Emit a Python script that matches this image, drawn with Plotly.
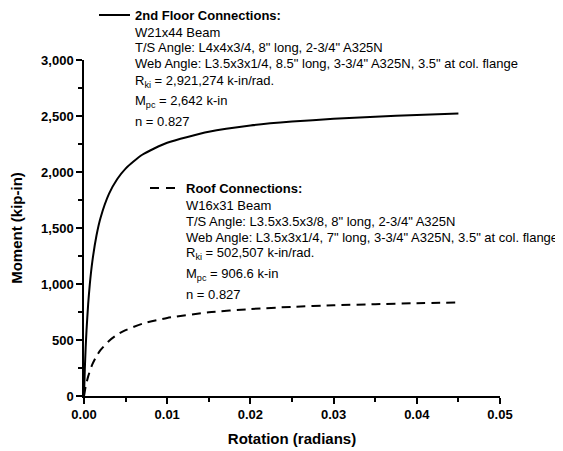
import plotly.graph_objects as go

# Data
rotation = [0, 0.0001, 0.0002, 0.0003, 0.0005, 0.0007, 0.001, 0.0015, 0.002, 0.003, 0.004,
            0.005, 0.007, 0.01, 0.015, 0.02, 0.025, 0.03, 0.035, 0.04, 0.045]
moment_2nd = [0, 244, 431, 583, 820, 999, 1200, 1433, 1594, 1804, 1937,
              2030, 2154, 2261, 2359, 2415, 2450, 2475, 2494, 2509, 2523]
rotation_roof = [0, 0.0002, 0.0005, 0.001, 0.0015, 0.002, 0.003, 0.004, 0.005, 0.007, 0.01,
                 0.015, 0.02, 0.025, 0.03, 0.035, 0.04, 0.045]
moment_roof = [0, 84, 175, 282, 356, 412, 492, 548, 588, 645, 697,
               747, 776, 796, 810, 820, 829, 835]

x_ticks = [0, 0.01, 0.02, 0.03, 0.04, 0.05]
x_tick_labels = ["0.00", "0.01", "0.02", "0.03", "0.04", "0.05"]
y_ticks = [0, 500, 1000, 1500, 2000, 2500, 3000]
y_tick_labels = ["0", "500", "1,000", "1,500", "2,000", "2,500", "3,000"]

text_2nd = ["<b>2nd Floor Connections:</b>",
            "W21x44 Beam",
            "T/S Angle: L4x4x3/4, 8\" long, 2-3/4\" A325N",
            "Web Angle: L3.5x3x1/4, 8.5\" long, 3-3/4\" A325N, 3.5\" at col. flange",
            "R<sub>ki</sub> = 2,921,274 k-in/rad.",
            "M<sub>pc</sub> = 2,642 k-in",
            "n = 0.827"]
text_roof = ["<b>Roof Connections:</b>",
             "W16x31 Beam",
             "T/S Angle: L3.5x3.5x3/8, 8\" long, 2-3/4\" A325N",
             "Web Angle: L3.5x3x1/4, 7\" long, 3-3/4\" A325N, 3.5\" at col. flange",
             "R<sub>ki</sub> = 502,507 k-in/rad.",
             "M<sub>pc</sub> = 906.6 k-in",
             "n = 0.827"]

FONT = "Liberation Sans, Arial, sans-serif"
OFF = 8  # page body margin
W, H = 563 - OFF, 451 - OFF
# plot area in page pixels
L, R, T, B = 84, 500, 60, 396


def px(X):
    return (X - L) / (R - L)


def py(Y):
    return (B - Y) / (B - T)


fig = go.Figure()
fig.add_trace(go.Scatter(x=rotation, y=moment_2nd, mode="lines",
                         line=dict(color="black", width=2, shape="spline", smoothing=0.6),
                         showlegend=False))
fig.add_trace(go.Scatter(x=rotation_roof, y=moment_roof, mode="lines",
                         line=dict(color="black", width=2, dash="9px,6px", shape="spline", smoothing=0.6),
                         showlegend=False))

offsets = [0, 17, 33, 49, 66, 86, 106]
annotations = []
for txt, off in zip(text_2nd, offsets):
    annotations.append(dict(x=px(133), y=py(15 + off), xref="paper", yref="paper",
                            text=txt, showarrow=False, xanchor="left", yanchor="middle",
                            font=dict(family=FONT, size=13, color="black")))
for txt, off in zip(text_roof, offsets):
    annotations.append(dict(x=px(184), y=py(188 + off), xref="paper", yref="paper",
                            text=txt, showarrow=False, xanchor="left", yanchor="middle",
                            font=dict(family=FONT, size=13, color="black")))

shapes = [
    dict(type="line", xref="paper", yref="paper", x0=px(99), x1=px(130), y0=py(15), y1=py(15),
         line=dict(color="black", width=2)),
    dict(type="line", xref="paper", yref="paper", x0=px(150), x1=px(159), y0=py(188), y1=py(188),
         line=dict(color="black", width=2)),
    dict(type="line", xref="paper", yref="paper", x0=px(166), x1=px(175), y0=py(188), y1=py(188),
         line=dict(color="black", width=2)),
]

fig.update_layout(
    width=W, height=H,
    margin=dict(l=L - OFF, r=563 - R, t=T - OFF, b=451 - B, autoexpand=False),
    paper_bgcolor="white", plot_bgcolor="white",
    font=dict(family=FONT, size=13, color="black"),
    annotations=annotations, shapes=shapes,
    xaxis=dict(range=[0, 0.05], tickvals=x_ticks, ticktext=x_tick_labels,
               showgrid=False, zeroline=False, showline=True, linecolor="black", linewidth=1.5,
               ticks="outside", ticklen=6, tickwidth=1.5, tickcolor="black",
               tickfont=dict(family=FONT, size=13, color="black", weight="bold"),
               minor=dict(tickvals=[0.005, 0.015, 0.025, 0.035, 0.045], ticks="outside",
                          ticklen=4, tickwidth=1.5, tickcolor="black"),
               title=dict(text="<b>Rotation (radians)</b>", standoff=12,
                          font=dict(family=FONT, size=15, color="black"))),
    yaxis=dict(range=[0, 3000], tickvals=y_ticks, ticktext=y_tick_labels,
               showgrid=False, zeroline=False, showline=True, linecolor="black", linewidth=1.5,
               ticks="outside", ticklen=6, tickwidth=1.5, tickcolor="black",
               tickfont=dict(family=FONT, size=13, color="black", weight="bold"),
               minor=dict(tickvals=[250, 750, 1250, 1750, 2250, 2750], ticks="outside",
                          ticklen=4, tickwidth=1.5, tickcolor="black"),
               title=dict(text="<b>Moment (kip-in)</b>", standoff=16,
                          font=dict(family=FONT, size=15, color="black"))),
)

fig.write_html("out.html")
